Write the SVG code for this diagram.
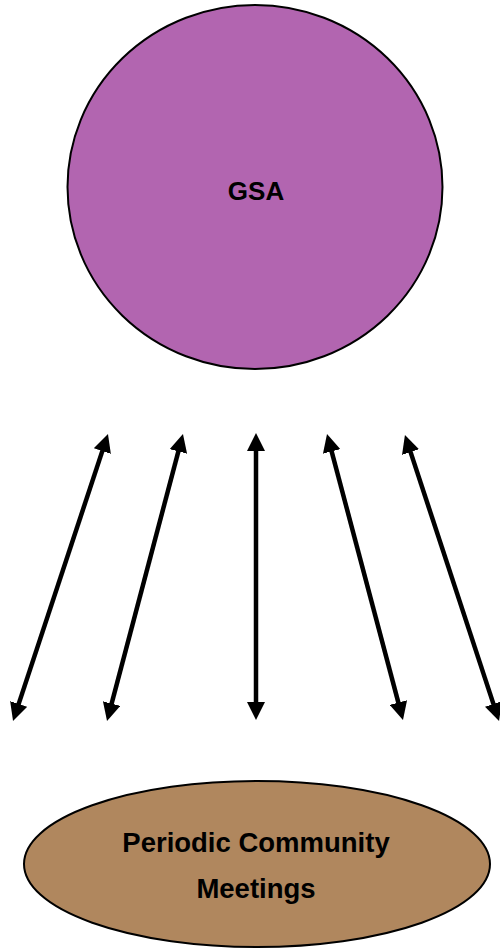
<svg xmlns="http://www.w3.org/2000/svg" width="500" height="948" viewBox="0 0 500 948">
<style>
.node{stroke:#000;stroke-width:2}
.lbl{font-family:"Liberation Sans",Arial,sans-serif;font-weight:bold;fill:#000;text-anchor:middle}
.conn{stroke:#000;stroke-width:4.5;fill:none;marker-start:url(#ah);marker-end:url(#ah)}
</style>
<defs>
<marker id="ah" markerUnits="userSpaceOnUse" markerWidth="18" markerHeight="18" refX="6" refY="9" orient="auto-start-reverse" viewBox="0 0 18 18">
<path d="M0,0 L18,9 L0,18 z" fill="#000"/>
</marker>
</defs>
<g id="gsa">
<ellipse class="node" cx="255" cy="187" rx="187.5" ry="182" fill="#B265B0"/>
<text class="lbl" x="256" y="200" font-size="26">GSA</text>
</g>
<g id="meetings">
<ellipse class="node" cx="257" cy="864" rx="233" ry="83" fill="#B0875E"/>
<text class="lbl" x="256" y="852" font-size="27.5">Periodic Community</text>
<text class="lbl" x="256" y="898" font-size="27.5">Meetings</text>
</g>
<g id="connectors">
<line class="conn" x1="104.2" y1="445.4" x2="16.8" y2="709.6"/>
<line class="conn" x1="179.9" y1="445.6" x2="110.1" y2="709.4"/>
<line class="conn" x1="256" y1="445" x2="256" y2="708"/>
<line class="conn" x1="330.1" y1="445.6" x2="399.9" y2="708.4"/>
<line class="conn" x1="408.7" y1="446.4" x2="495.3" y2="709.6"/>
</g>
</svg>
